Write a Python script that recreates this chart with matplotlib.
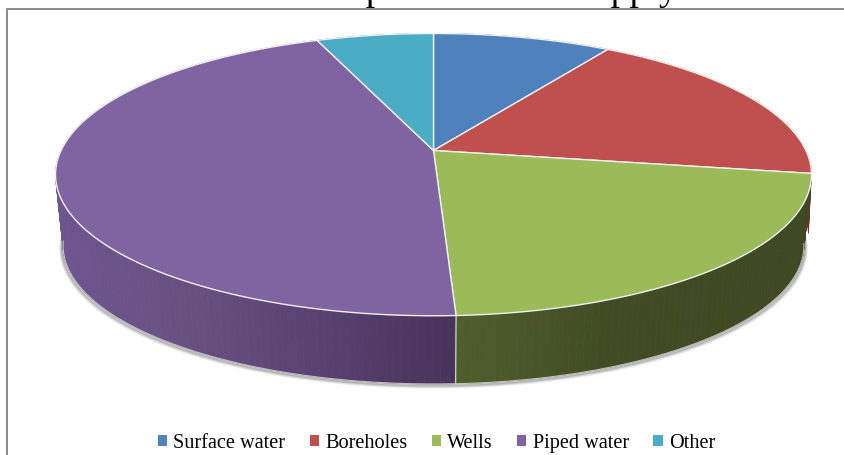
import numpy as np
import matplotlib
matplotlib.use("Agg")
import matplotlib.pyplot as plt
from matplotlib.patches import Patch

categories = ["Surface water", "Boreholes", "Wells", "Piped water", "Other"]
shares = [9.0, 18.6, 21.6, 44.9, 5.9]
top_colors = ["#4F81BD", "#C0504D", "#9BBB59", "#8064A2", "#4BACC6"]
# wall colour at the left and right end of each wall, as x position -> rgb
wall_stops = {
    "Surface water": ([430, 610], ["#2F4D71", "#2F4D71"]),
    "Boreholes": ([600, 810], ["#73302E", "#73302E"]),
    "Wells": ([455, 600, 810], ["#505F2E", "#414C24", "#3E4823"]),
    "Piped water": ([60, 200, 330, 455], ["#6D558F", "#67507F", "#574070", "#483358"]),
    "Other": ([320, 430], ["#2D6777", "#2D6777"]),
}
top_text = "were associated with the present water supply in the study,"

# projection of the tilted disc, in pixels
cx, cy = 433.5, 151.5
rx, ry = 372.4, 137.0
persp = 0.171
depth_shift = 71.5
depth_scale = 0.98


def project(theta, scale=1.0, shift=0.0):
    u, v = np.sin(theta), np.cos(theta)
    w = 1 + persp * v
    return cx + scale * rx * u / w, cy + shift - scale * ry * v / w


def to_rgb_array(stops):
    return np.array([matplotlib.colors.to_rgb(c) for c in stops])


fig = plt.figure(figsize=(8.45, 4.56), dpi=100)
ax = fig.add_axes([0, 0, 1, 1])
ax.set_xlim(0, 845)
ax.set_ylim(456, 0)
ax.axis("off")

# chart frame, runs off the picture on the right and bottom
ax.plot([7.5, 7.5, 850], [460, 9.5, 9.5], color="#8A8A8A", lw=1.4, zorder=1)

# line of body text cut off by the top and right edge of the picture
ax.text(870, 0, top_text, family="Liberation Serif", fontsize=27.1,
        ha="right", va="baseline", color="black", zorder=1)

edges = np.radians(np.cumsum([0] + shares) * 3.6)

# soft shadow under the lower rim
full = np.radians(np.linspace(85, 275, 200))
lx, ly = project(full, depth_scale, depth_shift)
for off, alpha in [(4.5, 0.06), (3.5, 0.1), (2.5, 0.15), (1.5, 0.25)]:
    ax.plot(lx + (off * np.sin(full)) * 0.6, ly + off * 0.8, color="#555555",
            alpha=alpha, lw=2, zorder=2, solid_capstyle="round")

# side walls, back slices first
order = [0, 4, 1, 3, 2]
for i in order:
    xs, cols = wall_stops[categories[i]]
    cols = to_rgb_array(cols)
    # the red wall pokes out a little behind the green one
    scale, shift = (0.992, 60.0) if categories[i] == "Boreholes" else (depth_scale, depth_shift)
    steps = np.linspace(edges[i], edges[i + 1], max(int(np.degrees(edges[i + 1] - edges[i])), 2) + 1)
    for a, b in zip(steps[:-1], steps[1:]):
        x1, y1 = project(np.array([a, b]))
        x2, y2 = project(np.array([b, a]), scale, shift)
        mid = (x1.mean() + x2.mean()) / 2
        c = [np.interp(mid, xs, cols[:, k]) for k in range(3)]
        ax.fill(np.r_[x1, x2], np.r_[y1, y2], color=c, lw=0.6, zorder=3)

# light rim on the lower edge and the wall joint
rim = np.radians(np.linspace(99, 262, 200))
lx, ly = project(rim, depth_scale, depth_shift)
ax.plot(lx, ly, color="#D8D8D8", lw=0.8, alpha=0.8, zorder=4)
jx = project(np.array([edges[3], edges[3]]))[0][0]
jy = project(np.array([edges[3]]))[1][0]
jx2, jy2 = project(np.array([edges[3]]), depth_scale, depth_shift)
ax.plot([jx, jx2[0]], [jy, jy2[0]], color="#D0D0D0", lw=0.9, zorder=4)

# top face
for i in range(len(shares)):
    theta = np.linspace(edges[i], edges[i + 1], 200)
    x, y = project(theta)
    ax.fill(np.r_[cx, x], np.r_[cy, y], facecolor=top_colors[i],
            edgecolor="#F0F0F0", lw=1.0, zorder=5)

handles = [Patch(facecolor=c, edgecolor="none") for c in top_colors]
leg = ax.legend(handles, categories, ncol=5, loc="center", bbox_to_anchor=(436.5 / 845, 1 - 444 / 456),
                frameon=False, prop={"family": "Liberation Serif", "size": 14.6},
                handlelength=0.45, handleheight=0.45, handletextpad=0.32, columnspacing=1.2,
                borderpad=0, labelcolor="black")

fig.savefig("out.png", dpi=100)
